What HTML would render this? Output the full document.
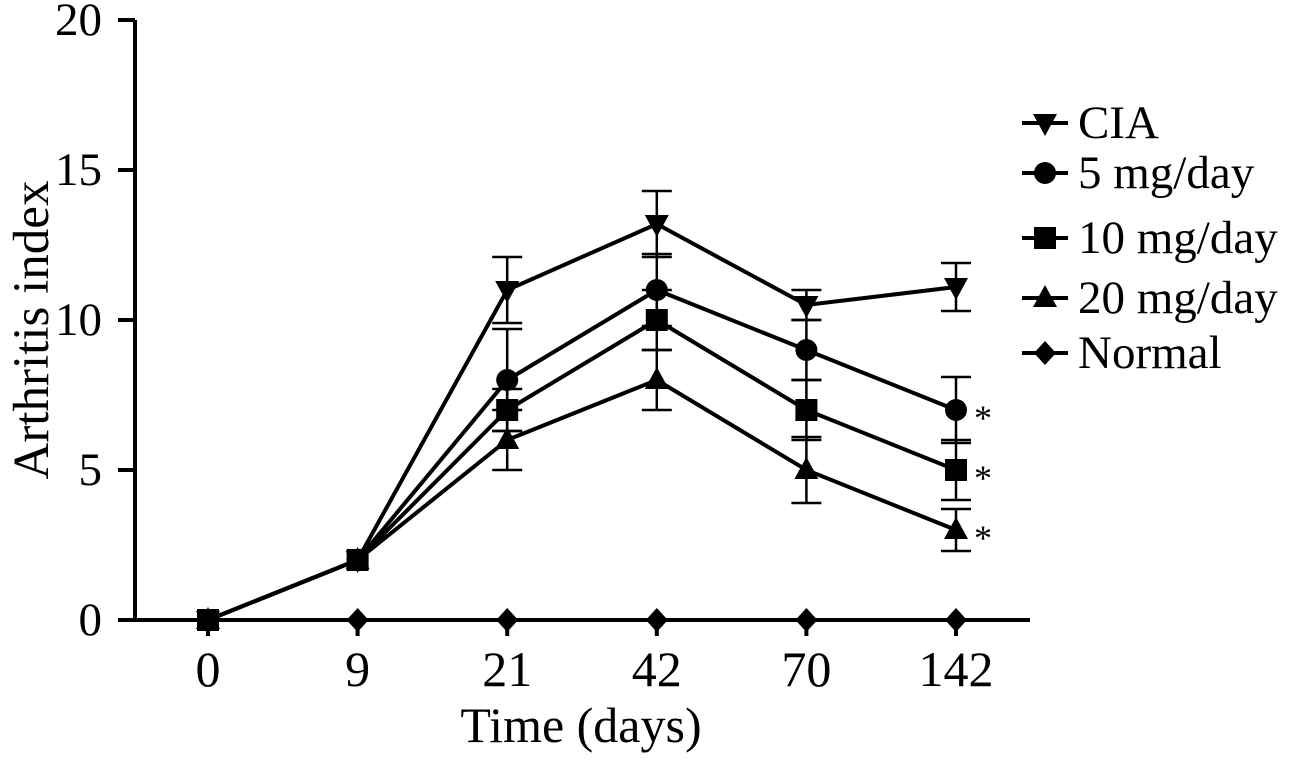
<!DOCTYPE html>
<html><head><meta charset="utf-8"><style>
html,body{margin:0;padding:0;background:#fff;}
svg{display:block;font-family:"Liberation Serif",serif;}
</style></head><body>
<svg id="chart" width="1296" height="762" viewBox="0 0 1296 762"></svg>
<script>
const categories = ["0","9","21","42","70","142"];
const yTicks = [0,5,10,15,20];
const seriesNames = ["CIA","5 mg/day","10 mg/day","20 mg/day","Normal"];
const markers = ["tri-down","circle","square","tri-up","diamond"];
const ciaValues = [0,2,11,13.2,10.5,11.1];
const ciaErr = [0,0,1.1,1.1,0.5,0.8];
const mg5Values = [0,2,8,11,9,7];
const mg5Err = [0,0,1.7,1.2,1,1.1];
const mg10Values = [0,2,7,10,7,5];
const mg10Err = [0,0,0.7,1,1,1];
const mg20Values = [0,2,6,8,5,3];
const mg20Err = [0,0,1,1,1.1,0.7];
const normalValues = [0,0,0,0,0,0];
const normalErr = [0,0,0,0,0,0];
const sigFlags = [false,true,true,true,false];

const NS="http://www.w3.org/2000/svg";
const svg=document.getElementById('chart');
function el(t,a,p){const e=document.createElementNS(NS,t);for(const k in a)e.setAttribute(k,a[k]);(p||svg).appendChild(e);return e;}
const xS=i=>208+i*149.6;
const yS=v=>620-v*30;

const ya=el('line',{x1:135,y1:20,x2:135,y2:621,stroke:'#000','stroke-width':4});


const xa=el('line',{x1:118,y1:620,x2:1030,y2:620,stroke:'#000','stroke-width':4});


yTicks.forEach(v=>{
  const t=el('line',{x1:118,y1:yS(v),x2:135,y2:yS(v),stroke:'#000','stroke-width':4});
  
  
  const l=el('text',{x:102,y:yS(v)+15,'text-anchor':'end','font-size':47});
  l.textContent=v;
  
  
});
categories.forEach((c,i)=>{
  const t=el('line',{x1:xS(i),y1:620,x2:xS(i),y2:636,stroke:'#000','stroke-width':4});
  
  
  const l=el('text',{x:xS(i),y:686,'text-anchor':'middle','font-size':50});
  l.textContent=c;
  
  
});
const xt=el('text',{x:581,y:742,'text-anchor':'middle','font-size':50});
xt.textContent='Time (days)';


const yt=el('text',{x:0,y:0,'text-anchor':'middle','font-size':51,transform:'translate(48,330) rotate(-90)'});
yt.textContent='Arthritis index';



function marker(type,x,y,g){
  let m;
  if(type==='circle') m=el('circle',{cx:x,cy:y,r:11},g);
  else if(type==='square') m=el('rect',{x:x-11,y:y-11,width:22,height:22},g);
  else if(type==='tri-up') m=el('polygon',{points:`${x},${y-13} ${x+12},${y+9} ${x-12},${y+9}`},g);
  else if(type==='tri-down') m=el('polygon',{points:`${x},${y+13} ${x+12},${y-9} ${x-12},${y-9}`},g);
  else m=el('polygon',{points:`${x},${y-12} ${x+11},${y} ${x},${y+12} ${x-11},${y}`},g);
  m.setAttribute('fill','#000');
  return m;
}
const allVals=[ciaValues,mg5Values,mg10Values,mg20Values,normalValues];
const allErr=[ciaErr,mg5Err,mg10Err,mg20Err,normalErr];
allVals.forEach((vals,s)=>{
  const g=el('g',{});
  
  
  el('polyline',{points:vals.map((v,i)=>xS(i)+','+yS(v)).join(' '),fill:'none',stroke:'#000','stroke-width':4},g);
  vals.forEach((v,i)=>{
    const e=allErr[s][i];
    if(e>0){
      el('line',{x1:xS(i),y1:yS(v-e),x2:xS(i),y2:yS(v+e),stroke:'#000','stroke-width':2.5},g);
      el('line',{x1:xS(i)-15,y1:yS(v-e),x2:xS(i)+15,y2:yS(v-e),stroke:'#000','stroke-width':2.5},g);
      el('line',{x1:xS(i)-15,y1:yS(v+e),x2:xS(i)+15,y2:yS(v+e),stroke:'#000','stroke-width':2.5},g);
    }
    const m=marker(markers[s],xS(i),yS(v),g);
    
    
  });
  if(sigFlags[s]){
    const last=vals.length-1;
    const a=el('text',{x:xS(last)+18,y:yS(vals[last])+20,'font-size':36},g);
    a.textContent='*';
    
    
  }
});
const legY=[123,173,238,298,353];
seriesNames.forEach((n,s)=>{
  const g=el('g',{});
  
  
  el('line',{x1:1022,y1:legY[s],x2:1068,y2:legY[s],stroke:'#000','stroke-width':4},g);
  marker(markers[s],1045,legY[s],g);
  const t=el('text',{x:1078,y:legY[s]+15,'font-size':47},g);
  t.textContent=n;
});
</script>
</body></html>
